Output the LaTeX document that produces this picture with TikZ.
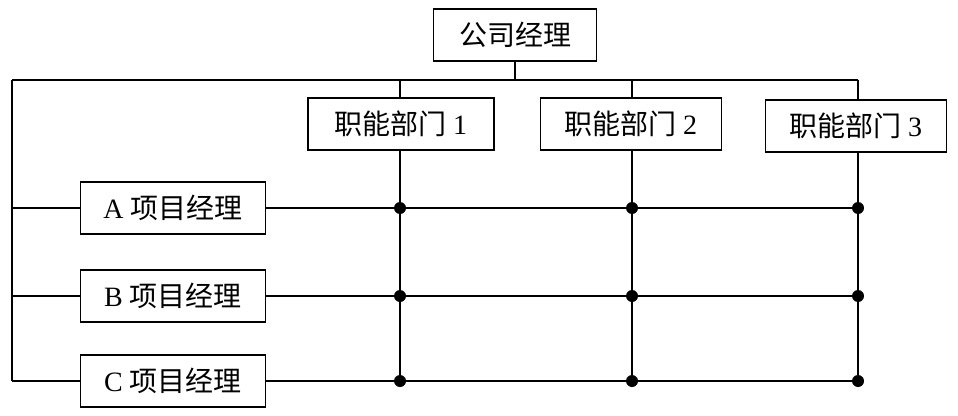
\documentclass[tikz,border=0pt]{standalone}
\usepackage{fontspec}
\setmainfont{Liberation Serif}
\newfontfamily\cjk{Noto Sans CJK SC}
\begin{document}
\begin{tikzpicture}[x=1pt,y=-1pt,
 box/.style={draw,line width=1.2pt,minimum height=52pt,inner sep=0pt,font=\fontsize{28}{28}\selectfont},
 ln/.style={line width=1.2pt},
 dot/.style={circle,fill,inner sep=0pt,minimum size=12pt}]
\useasboundingbox (0,0) rectangle (958,415);
\node[box,minimum width=163pt] (top) at (515,35) {\cjk 公司经理};
\node[box,minimum width=186pt] (d1) at (401,124) {\cjk 职能部门 \rmfamily 1};
\node[box,minimum width=181pt] (d2) at (631,124) {\cjk 职能部门 \rmfamily 2};
\node[box,minimum width=181pt] (d3) at (856,126) {\cjk 职能部门 \rmfamily 3};
\node[box,minimum width=185pt] (pa) at (173,208) {A {\cjk 项目经理}};
\node[box,minimum width=185pt] (pb) at (173,296) {B {\cjk 项目经理}};
\node[box,minimum width=185pt] (pc) at (173,381) {C {\cjk 项目经理}};
\coordinate (tl) at (12,80);
\coordinate (tr) at (858,80);
\coordinate (bl) at (12,381);
\draw[ln] (top.south) -- (515,80);
\draw[ln] (tl) -- (tr);
\draw[ln] (tl) -- (bl);
\draw[ln] (12,208) -- (pa.west);
\draw[ln] (12,296) -- (pb.west);
\draw[ln] (bl) -- (pc.west);
\draw[ln] (400,80) -- (d1.north -| 400,0);
\draw[ln] (632,80) -- (d2.north -| 632,0);
\draw[ln] (tr) -- (d3.north -| 858,0);
\coordinate (e1) at (400,383);
\coordinate (e2) at (632,383);
\coordinate (e3) at (858,383);
\draw[ln] (d1.south -| e1) -- (e1);
\draw[ln] (d2.south -| e2) -- (e2);
\draw[ln] (d3.south -| e3) -- (e3);
\draw[ln] (pa.east) -- (858,208);
\draw[ln] (pb.east) -- (858,296);
\draw[ln] (pc.east) -- (858,381);
\foreach \y in {208,296,381} \foreach \x in {400,632,858} \node[dot] at (\x,\y) {};
\end{tikzpicture}
\end{document}
